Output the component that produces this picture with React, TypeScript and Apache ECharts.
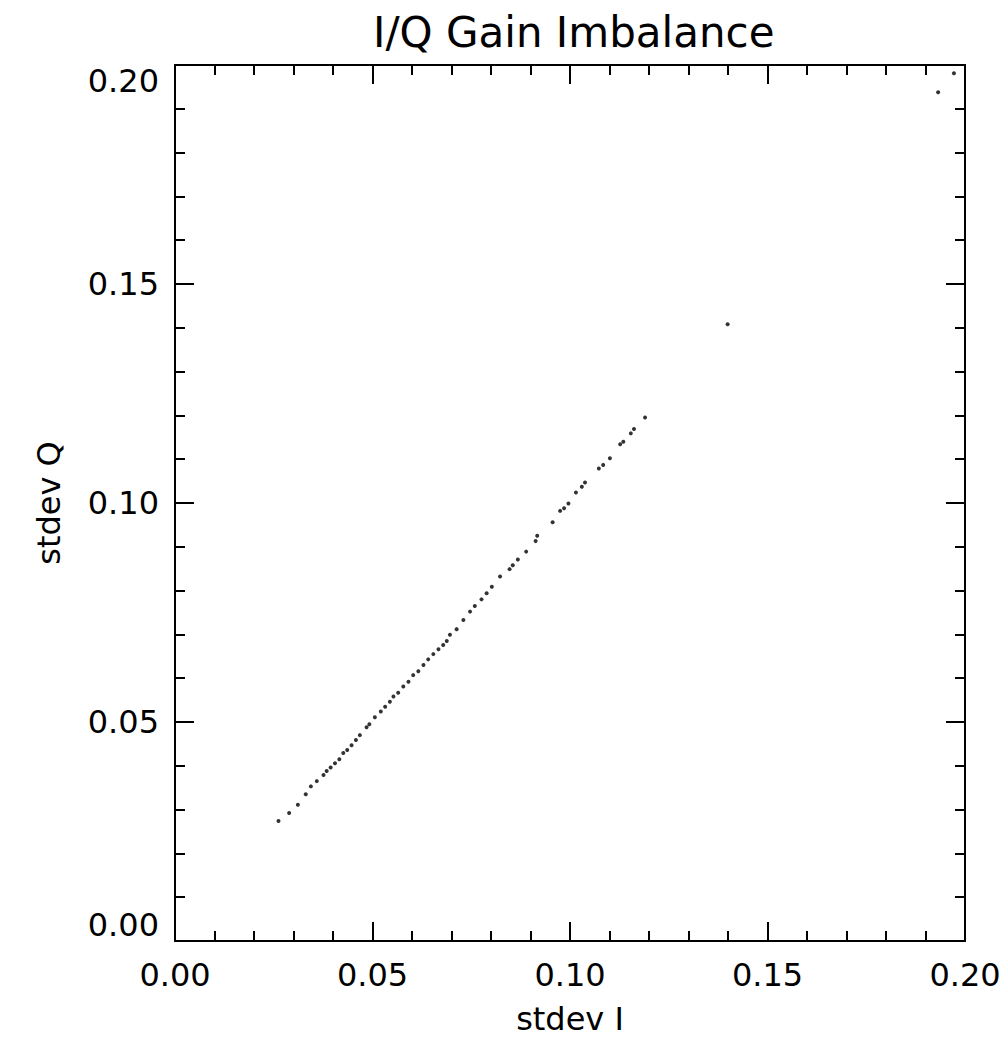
import React, { useEffect, useRef } from "react";
import * as echarts from "echarts";

const TITLE = "I/Q Gain Imbalance";
const X_NAME = "stdev I";
const Y_NAME = "stdev Q";

// Points (stdev I, stdev Q)
const stdevI = [
  0.0262, 0.0289, 0.0311, 0.0331, 0.0344, 0.0359,
  0.0376, 0.0384, 0.0394, 0.0405, 0.0416, 0.0426, 0.0436, 0.0447, 0.0458, 0.0468,
  0.0485, 0.0492, 0.0506, 0.0521, 0.0532, 0.0544, 0.0553, 0.0565, 0.0578, 0.0591,
  0.0603, 0.0616, 0.0629, 0.0641, 0.0654, 0.0667, 0.0679, 0.0688,
  0.0696, 0.0713, 0.0730, 0.0747, 0.0759, 0.0776, 0.0789, 0.0802, 0.0823, 0.0847,
  0.0855, 0.0868, 0.0889, 0.0913, 0.0917, 0.0956, 0.0975, 0.0985, 0.0996, 0.1015,
  0.1030, 0.1038, 0.1073, 0.1084, 0.1101, 0.1127, 0.1135, 0.1154, 0.1162, 0.1190,
  0.1399, 0.1932, 0.1972,
];
const stdevQ = [
  0.0274, 0.0292, 0.0311, 0.0335, 0.0353, 0.0365,
  0.0379, 0.0388, 0.0396, 0.0406, 0.0415, 0.0429, 0.0436, 0.0447, 0.0459, 0.0470,
  0.0488, 0.0495, 0.0511, 0.0524, 0.0535, 0.0546, 0.0558, 0.0567, 0.0581, 0.0592,
  0.0607, 0.0616, 0.0630, 0.0643, 0.0655, 0.0666, 0.0676, 0.0685,
  0.0699, 0.0712, 0.0733, 0.0752, 0.0765, 0.0780, 0.0794, 0.0809, 0.0832, 0.0849,
  0.0858, 0.0871, 0.0889, 0.0913, 0.0925, 0.0956, 0.0982, 0.0988, 0.0999, 0.1024,
  0.1037, 0.1047, 0.1079, 0.1087, 0.1102, 0.1134, 0.1140, 0.1159, 0.1169, 0.1195,
  0.1408, 0.1938, 0.1981,
];

const AXIS_MIN = 0;
const AXIS_MAX = 0.2;
const AXIS_STEP = 0.05;

const FONT = "DejaVu Sans";

export default function App() {
  const ref = useRef<HTMLDivElement>(null);
  useEffect(() => {
    if (!ref.current) return;
    const chart = echarts.init(ref.current, null, { renderer: "svg" });
    const data = stdevI.map((x, i) => [x, stdevQ[i]]);
    const lineStyle = { color: "#000", width: 2 };
    const baseAxis = {
      type: "value" as const,
      min: AXIS_MIN,
      max: AXIS_MAX,
      interval: AXIS_STEP,
      axisLine: { show: true, onZero: false, lineStyle },
      axisTick: { show: true, inside: true, length: 19, lineStyle },
      minorTick: { show: true, splitNumber: 5, length: 10, lineStyle: { color: "#000", width: 2 } },
      splitLine: { show: false },
      minorSplitLine: { show: false },
    };
    chart.setOption({
      animation: false,
      backgroundColor: "#fff",
      title: {
        text: TITLE,
        left: 368,
        top: 6,
        textStyle: { fontFamily: FONT, fontSize: 42, fontWeight: "normal", color: "#000" },
      },
      grid: { left: 175, top: 65, right: 43, bottom: 106, containLabel: false },
      xAxis: [
        {
          ...baseAxis,
          position: "bottom",
          name: X_NAME,
          nameLocation: "middle",
          nameGap: 62,
          nameTextStyle: { fontFamily: FONT, fontSize: 32, color: "#000" },
          axisLabel: {
            show: true,
            margin: 18,
            fontFamily: FONT,
            fontSize: 32,
            color: "#000",
            formatter: (v: number) => v.toFixed(2),
          },
        },
        {
          ...baseAxis,
          position: "top",
          axisLabel: { show: false },
        },
      ],
      yAxis: [
        {
          ...baseAxis,
          position: "left",
          name: Y_NAME,
          nameLocation: "middle",
          nameGap: 110,
          nameTextStyle: { fontFamily: FONT, fontSize: 32, color: "#000" },
          axisLabel: {
            show: true,
            margin: 16,
            fontFamily: FONT,
            fontSize: 32,
            color: "#000",
            verticalAlignMinLabel: "bottom",
            verticalAlignMaxLabel: "top",
            formatter: (v: number) => v.toFixed(2),
          },
        },
        {
          ...baseAxis,
          position: "right",
          axisLabel: { show: false },
        },
      ],
      series: [
        {
          type: "scatter",
          xAxisIndex: 0,
          yAxisIndex: 0,
          data,
          symbol: "circle",
          symbolSize: 4,
          itemStyle: { color: "#000" },
        },
      ],
    });
    return () => chart.dispose();
  }, []);
  return (
    <div
      ref={ref}
      style={{ position: "fixed", left: 0, top: 0, width: 1008, height: 1047, background: "#fff" }}
    />
  );
}
